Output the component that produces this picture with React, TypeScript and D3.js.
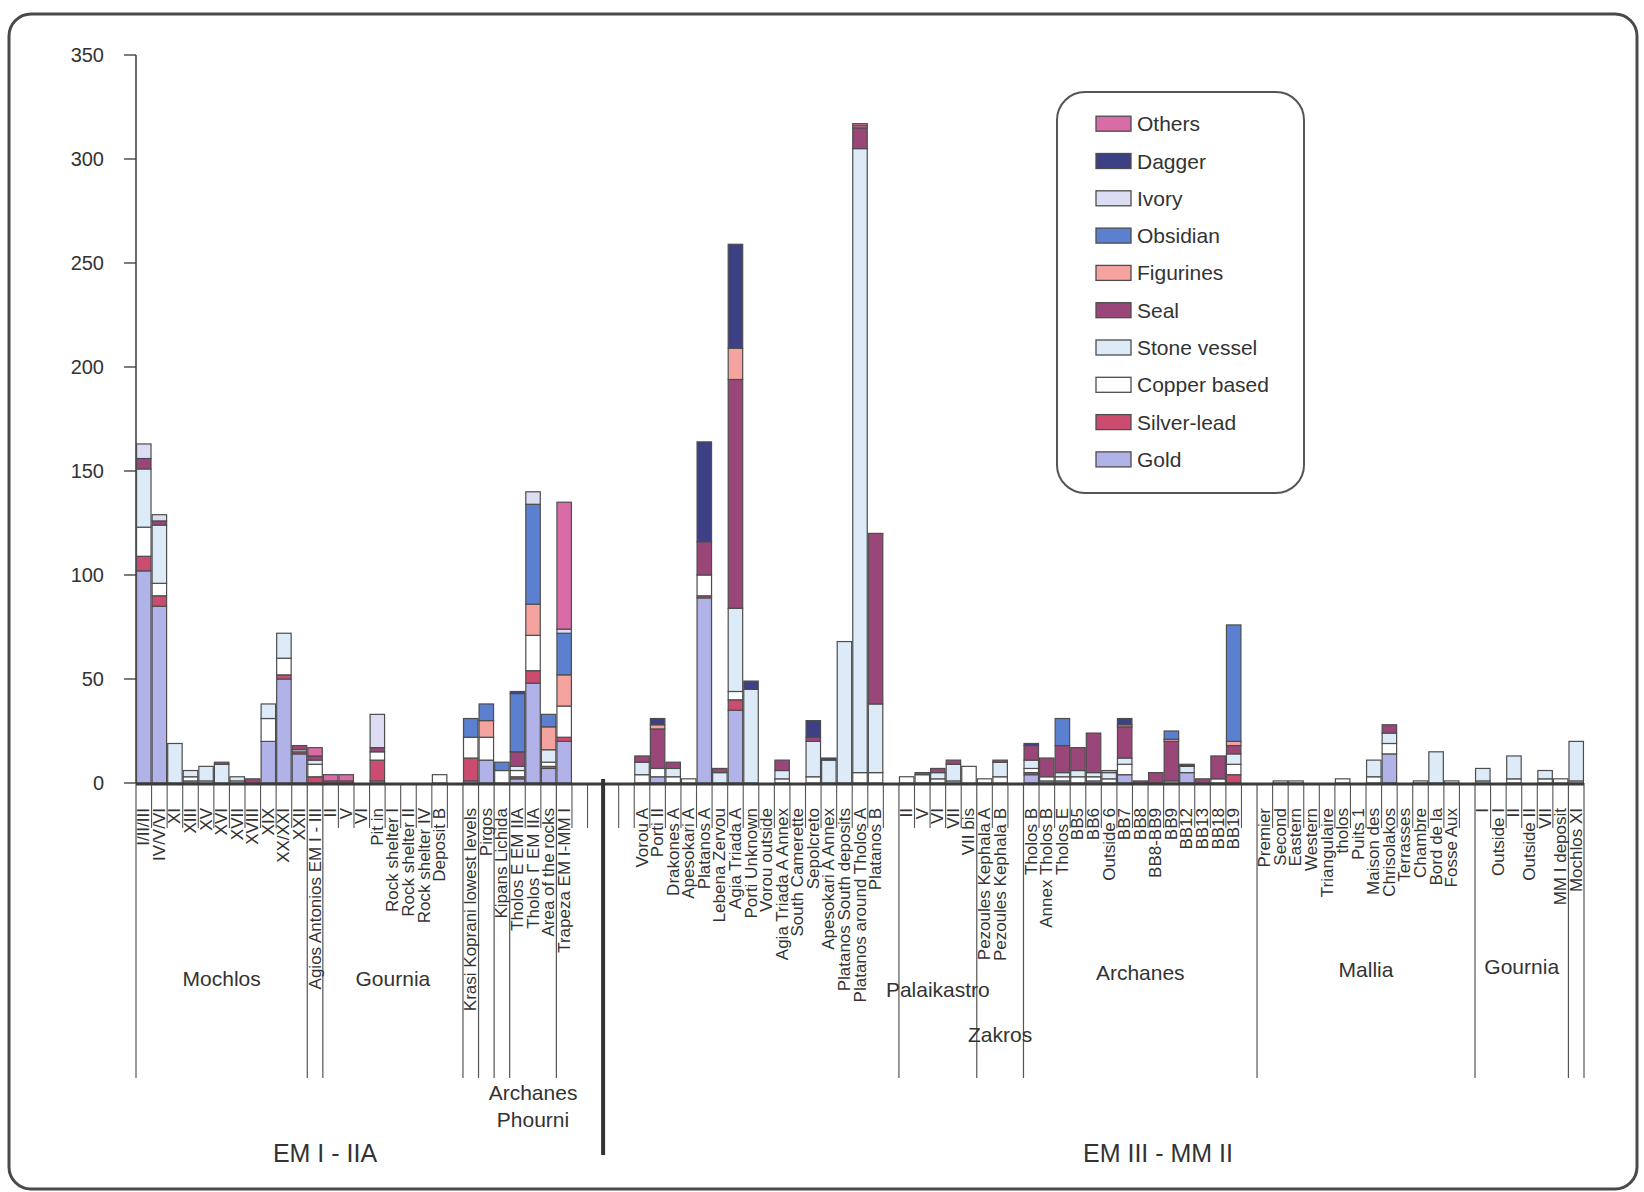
import React from "react";
import * as d3 from "d3";

const W = 1644;
const H = 1192;

// ---------- DATA ----------
const categories = [
  "I/II/III", "IV/V/VI", "XI", "XIII", "XV", "XVI", "XVII", "XVIII", "XIX", "XX/XXI",
  "XXII", "Agios Antonios EM I - III", "II", "V", "VI", "Pit in", "Rock shelter I", "Rock shelter II", "Rock shelter IV", "Deposit B",
  "", "Krasi Koprani lowest levels", "Pirgos", "Kipans Lichida", "Tholos E EM IIA", "Tholos Γ EM IIA", "Area of the rocks", "Trapeza EM I-MM I", "", "",
  "", "", "Vorou A", "Porti II", "Drakones A", "Apesokari A", "Platanos A", "Lebena Zervou", "Agia Triada A", "Porti Unknown",
  "Vorou outside", "Agia Triada A Annex", "South Camerette", "Sepolcreto", "Apesokari A Annex", "Platanos South deposits", "Platanos around Tholos A", "Platanos B", "", "II",
  "V", "VI", "VII", "VII bis", "Pezoules Kephala A", "Pezoules Kephala B", "", "Tholos B", "Annex Tholos B", "Tholos E",
  "BB5", "BB6", "Outside 6", "BB7", "BB8", "BB8-BB9", "BB9", "BB12", "BB13", "BB18",
  "BB19", "", "Premier", "Second", "Eastern", "Western", "Triangulaire", "tholos", "Puits 1", "Maison des",
  "Chrisolakos", "Terrasses", "Chambre", "Bord de la", "Fosse Aux", "", "I", "Outside I", "II", "Outside II",
  "VII", "MM I deposit", "Mochlos XI",
];

const gold = [
  102, 85, 0, 1, 0, 0, 0, 0, 20, 50,
  14, 0, 0, 0, 0, 1, 0, 0, 0, 0,
  0, 1, 11, 0, 2, 48, 7, 20, 0, 0,
  0, 0, 0, 3, 0, 0, 89, 0, 35, 0,
  0, 0, 0, 0, 0, 0, 0, 0, 0, 0,
  0, 0, 0, 0, 0, 0, 0, 4, 1, 1,
  0, 1, 0, 4, 0, 0, 0, 5, 0, 0,
  0, 0, 0, 0, 0, 0, 0, 0, 0, 0,
  14, 0, 0, 0, 0, 0, 0, 0, 0, 0,
  0, 0, 0,
];
const silverLead = [
  7, 5, 0, 0, 0, 0, 0, 0, 0, 2,
  1, 3, 1, 1, 0, 10, 0, 0, 0, 0,
  0, 11, 0, 0, 1, 6, 1, 2, 0, 0,
  0, 0, 0, 0, 0, 0, 1, 0, 5, 0,
  0, 0, 0, 0, 0, 0, 0, 0, 0, 0,
  0, 0, 0, 0, 0, 0, 0, 1, 0, 0,
  0, 0, 0, 0, 0, 0, 0, 0, 0, 0,
  4, 0, 0, 0, 0, 0, 0, 0, 0, 0,
  0, 0, 0, 0, 0, 0, 0, 0, 0, 0,
  0, 0, 0,
];
const copperBased = [
  14, 6, 0, 2, 1, 0, 1, 0, 11, 8,
  1, 6, 0, 0, 0, 4, 0, 0, 0, 4,
  0, 10, 11, 6, 3, 17, 2, 15, 0, 0,
  0, 0, 4, 4, 3, 2, 10, 0, 4, 0,
  0, 2, 0, 3, 0, 0, 5, 5, 0, 3,
  4, 2, 1, 8, 2, 3, 0, 2, 2, 2,
  3, 2, 2, 5, 0, 0, 1, 0, 0, 2,
  5, 0, 0, 1, 1, 0, 0, 2, 0, 3,
  5, 0, 1, 0, 1, 0, 1, 0, 2, 0,
  2, 2, 1,
];
const stoneVessel = [
  28, 28, 19, 3, 7, 9, 2, 0, 7, 12,
  0, 2, 0, 0, 0, 0, 0, 0, 0, 0,
  0, 0, 0, 0, 2, 0, 6, 0, 0, 0,
  0, 0, 6, 0, 4, 0, 0, 5, 40, 45,
  0, 4, 0, 17, 11, 68, 300, 33, 0, 0,
  0, 3, 8, 0, 0, 7, 0, 4, 0, 2,
  3, 2, 3, 3, 0, 0, 0, 3, 0, 0,
  5, 0, 0, 0, 0, 0, 0, 0, 0, 8,
  5, 0, 0, 15, 0, 0, 6, 0, 11, 0,
  4, 0, 19,
];
const seal = [
  5, 2, 0, 0, 0, 1, 0, 2, 0, 0,
  2, 2, 0, 0, 0, 2, 0, 0, 0, 0,
  0, 0, 0, 0, 7, 0, 0, 0, 0, 0,
  0, 0, 3, 19, 3, 0, 16, 2, 110, 0,
  0, 5, 0, 2, 0, 0, 10, 82, 0, 0,
  1, 2, 2, 0, 0, 1, 0, 7, 9, 13,
  11, 19, 0, 15, 1, 5, 19, 0, 2, 11,
  4, 0, 0, 0, 0, 0, 0, 0, 0, 0,
  4, 0, 0, 0, 0, 0, 0, 0, 0, 0,
  0, 0, 0,
];
const figurines = [
  0, 0, 0, 0, 0, 0, 0, 0, 0, 0,
  0, 0, 0, 0, 0, 0, 0, 0, 0, 0,
  0, 0, 8, 0, 0, 15, 11, 15, 0, 0,
  0, 0, 0, 2, 0, 0, 0, 0, 15, 0,
  0, 0, 0, 0, 0, 0, 1, 0, 0, 0,
  0, 0, 0, 0, 0, 0, 0, 0, 0, 0,
  0, 0, 1, 1, 0, 0, 1, 0, 0, 0,
  2, 0, 0, 0, 0, 0, 0, 0, 0, 0,
  0, 0, 0, 0, 0, 0, 0, 0, 0, 0,
  0, 0, 0,
];
const obsidian = [
  0, 0, 0, 0, 0, 0, 0, 0, 0, 0,
  0, 0, 0, 0, 0, 0, 0, 0, 0, 0,
  0, 9, 8, 4, 28, 48, 6, 20, 0, 0,
  0, 0, 0, 0, 0, 0, 0, 0, 0, 0,
  0, 0, 0, 0, 0, 0, 0, 0, 0, 0,
  0, 0, 0, 0, 0, 0, 0, 0, 0, 13,
  0, 0, 0, 0, 0, 0, 4, 0, 0, 0,
  56, 0, 0, 0, 0, 0, 0, 0, 0, 0,
  0, 0, 0, 0, 0, 0, 0, 0, 0, 0,
  0, 0, 0,
];
const ivory = [
  7, 3, 0, 0, 0, 0, 0, 0, 0, 0,
  0, 0, 0, 0, 0, 16, 0, 0, 0, 0,
  0, 0, 0, 0, 0, 6, 0, 2, 0, 0,
  0, 0, 0, 0, 0, 0, 0, 0, 0, 0,
  0, 0, 0, 0, 0, 0, 0, 0, 0, 0,
  0, 0, 0, 0, 0, 0, 0, 0, 0, 0,
  0, 0, 0, 0, 0, 0, 0, 0, 0, 0,
  0, 0, 0, 0, 0, 0, 0, 0, 0, 0,
  0, 0, 0, 0, 0, 0, 0, 0, 0, 0,
  0, 0, 0,
];
const dagger = [
  0, 0, 0, 0, 0, 0, 0, 0, 0, 0,
  0, 0, 0, 0, 0, 0, 0, 0, 0, 0,
  0, 0, 0, 0, 1, 0, 0, 0, 0, 0,
  0, 0, 0, 3, 0, 0, 48, 0, 50, 4,
  0, 0, 0, 8, 1, 0, 0, 0, 0, 0,
  0, 0, 0, 0, 0, 0, 0, 1, 0, 0,
  0, 0, 0, 3, 0, 0, 0, 1, 0, 0,
  0, 0, 0, 0, 0, 0, 0, 0, 0, 0,
  0, 0, 0, 0, 0, 0, 0, 0, 0, 0,
  0, 0, 0,
];
const others = [
  0, 0, 0, 0, 0, 0, 0, 0, 0, 0,
  0, 4, 3, 3, 0, 0, 0, 0, 0, 0,
  0, 0, 0, 0, 0, 0, 0, 61, 0, 0,
  0, 0, 0, 0, 0, 0, 0, 0, 0, 0,
  0, 0, 0, 0, 0, 0, 1, 0, 0, 0,
  0, 0, 0, 0, 0, 0, 0, 0, 0, 0,
  0, 0, 0, 0, 0, 0, 0, 0, 0, 0,
  0, 0, 0, 0, 0, 0, 0, 0, 0, 0,
  0, 0, 0, 0, 0, 0, 0, 0, 0, 0,
  0, 0, 0,
];

const seriesNames = ["Gold", "Silver-lead", "Copper based", "Stone vessel", "Seal", "Figurines", "Obsidian", "Ivory", "Dagger", "Others"];
const seriesValues = [gold, silverLead, copperBased, stoneVessel, seal, figurines, obsidian, ivory, dagger, others];
const seriesColors = ["#b0b2e8", "#cc4c70", "#ffffff", "#ddebf9", "#9b4679", "#f4a39f", "#5b80cf", "#dcdcf3", "#3e4085", "#d96ca6"];

const yTicks = [0, 50, 100, 150, 200, 250, 300, 350];

// group boundaries (slot indices where long separator lines are drawn)
const groupBoundaries = [0, 11, 12, 21, 22, 23, 24, 27, 49, 54, 57, 72, 86, 92, 93];
// site groups: name, first slot, last slot (inclusive)
const siteGroupNames = ["Mochlos", "Gournia", "Archanes\nPhourni", "Palaikastro", "Zakros", "Archanes", "Mallia", "Gournia"];
const siteGroupFirst = [0, 12, 23, 49, 54, 57, 72, 86];
const siteGroupLast = [10, 20, 27, 53, 56, 71, 85, 91];
const periodNames = ["EM I - IIA", "EM III - MM II"];

// ---------- LAYOUT ----------
const X0 = 136;
const X1 = 1584;
const Y0 = 783;
const YTOP = 55;
const LABEL_TOP = 808;
const INNER_TICK_END = 828;
const GROUP_LINE_END = 1078;
const DIVIDER_SLOT = 30;
const groupLabelY = [978, 978, 1092, 989, 1034, 972, 969, 966];
const periodLabelX = [325, 1158];
const periodLabelY = 1153;

const FONT = "'Liberation Sans', Arial, Helvetica, sans-serif";
const TEXT = "#333333";

export default function App() {
  const n = categories.length;
  const rows = categories.map((c, i) => {
    const r: any = { idx: i };
    seriesNames.forEach((s, k) => (r[s] = seriesValues[k][i]));
    return r;
  });
  const stack = d3.stack<any>().keys(seriesNames);
  const stacked = stack(rows);

  const x = d3
    .scaleBand<number>()
    .domain(d3.range(n))
    .range([X0, X1])
    .paddingInner(0.07)
    .paddingOuter(0.035);
  const step = x.step();
  const bound = (k: number) => X0 + k * step;
  const y = d3.scaleLinear().domain([0, 350]).range([Y0, YTOP]);

  const bars: any[] = [];
  stacked.forEach((layer, k) => {
    layer.forEach((d, i) => {
      const v = d[1] - d[0];
      if (v <= 0) return;
      bars.push(
        <rect
          key={`b-${k}-${i}`}
          x={x(i)}
          width={x.bandwidth()}
          y={y(d[1])}
          height={y(d[0]) - y(d[1])}
          fill={seriesColors[k]}
          stroke="#4d4d4d"
          strokeWidth={1.2}
        />
      );
    });
  });

  const innerTicks: any[] = [];
  for (let k = 0; k <= n; k++) {
    if (groupBoundaries.includes(k) || k === DIVIDER_SLOT) continue;
    innerTicks.push(
      <line key={`t${k}`} x1={bound(k)} x2={bound(k)} y1={Y0} y2={INNER_TICK_END} stroke="#555" strokeWidth={1.1} />
    );
  }
  const groupLines = groupBoundaries.map((k) => (
    <line key={`g${k}`} x1={bound(k)} x2={bound(k)} y1={Y0} y2={GROUP_LINE_END} stroke="#555" strokeWidth={1.2} />
  ));

  const catLabels = categories.map((c, i) =>
    c ? (
      <text
        key={`c${i}`}
        transform={`translate(${(x(i) as number) + x.bandwidth() / 2},${LABEL_TOP}) rotate(-90)`}
        textAnchor="end"
        dominantBaseline="central"
        fontSize={17}
        fontFamily={FONT}
        fill={TEXT}
      >
        {c}
      </text>
    ) : null
  );

  const groupLabels = siteGroupNames.map((g, j) => {
    const cx = (bound(siteGroupFirst[j]) + bound(siteGroupLast[j] + 1)) / 2;
    const lines = g.split("\n");
    return (
      <text key={`gl${j}`} x={cx} y={groupLabelY[j]} textAnchor="middle" dominantBaseline="central" fontSize={21} fontFamily={FONT} fill={TEXT}>
        {lines.map((l, li) => (
          <tspan key={li} x={cx} dy={li === 0 ? 0 : 27}>
            {l}
          </tspan>
        ))}
      </text>
    );
  });

  const legendItems = seriesNames
    .map((s, k) => ({ s, k }))
    .reverse()
    .map(({ s, k }, i) => {
      const cy = 123.7 + i * 37.3;
      return (
        <g key={`lg${k}`}>
          <rect x={1096} y={cy - 7.5} width={35} height={15} fill={seriesColors[k]} stroke="#4d4d4d" strokeWidth={1.3} />
          <text x={1137} y={cy} dominantBaseline="central" fontSize={21} fontFamily={FONT} fill={TEXT}>
            {s}
          </text>
        </g>
      );
    });

  return (
    <svg width={W} height={H} style={{ position: "absolute", left: 0, top: 0, background: "#ffffff" }} xmlns="http://www.w3.org/2000/svg">
      <rect x={0} y={0} width={W} height={H} fill="#ffffff" />
      <rect x={9} y={14} width={1628} height={1175} rx={22} fill="none" stroke="#4a4a4a" strokeWidth={3} />

      {/* y axis */}
      <line x1={X0} x2={X0} y1={YTOP} y2={Y0} stroke="#444" strokeWidth={1.6} />
      {yTicks.map((t) => (
        <g key={`yt${t}`}>
          <line x1={X0 - 12} x2={X0} y1={y(t)} y2={y(t)} stroke="#444" strokeWidth={1.4} />
          <text x={104} y={y(t)} textAnchor="end" dominantBaseline="central" fontSize={20} fontFamily={FONT} fill={TEXT}>
            {t}
          </text>
        </g>
      ))}

      {bars}

      {/* category axis */}
      {innerTicks}
      {groupLines}
      <line x1={X0} x2={bound(n)} y1={Y0 + 1} y2={Y0 + 1} stroke="#3a3a3a" strokeWidth={3} />
      <line x1={bound(DIVIDER_SLOT)} x2={bound(DIVIDER_SLOT)} y1={Y0 - 4} y2={1155} stroke="#333" strokeWidth={4} />
      {catLabels}
      {groupLabels}
      {periodNames.map((p, j) => (
        <text key={`p${j}`} x={periodLabelX[j]} y={periodLabelY} textAnchor="middle" dominantBaseline="central" fontSize={25} fontFamily={FONT} fill={TEXT}>
          {p}
        </text>
      ))}

      {/* legend */}
      <rect x={1057} y={92} width={247} height={401} rx={28} fill="#ffffff" stroke="#555" strokeWidth={2} />
      {legendItems}
    </svg>
  );
}
